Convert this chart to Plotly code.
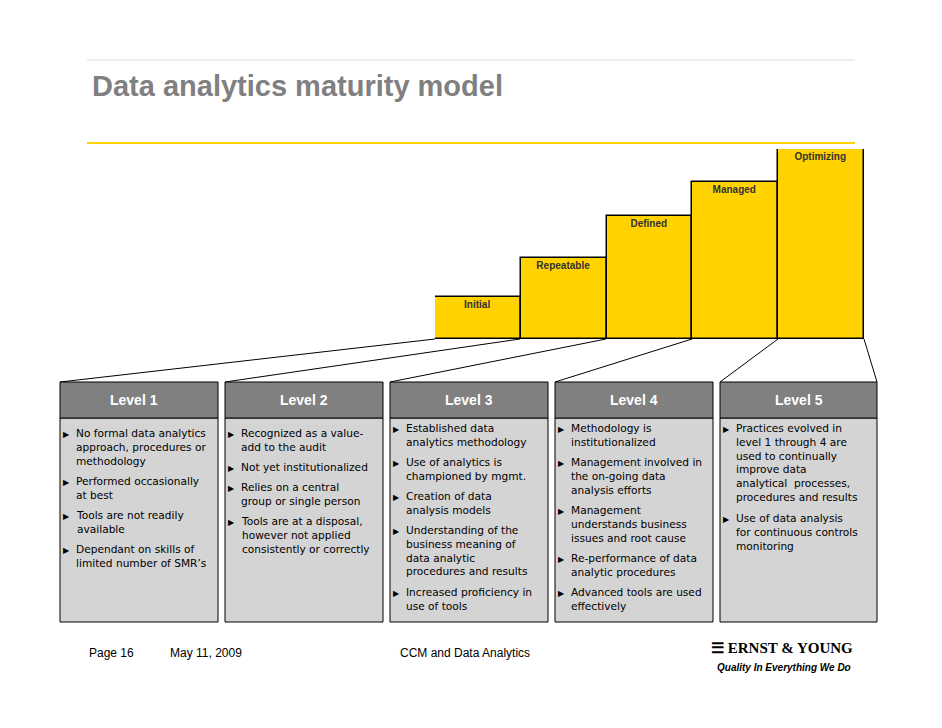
import plotly.graph_objects as go

stages = ["Initial", "Repeatable", "Defined", "Managed", "Optimizing"]
maturity = [1.0, 1.93, 2.93, 3.74, 4.52]

levels = ["Level 1", "Level 2", "Level 3", "Level 4", "Level 5"]
bullets = [
    [["No formal data analytics", "approach, procedures or", "methodology"],
     ["Performed occasionally", "at best"],
     ["Tools are not readily", "available"],
     ["Dependant on skills of", "limited number of SMR’s"]],
    [["Recognized as a value-", "add to the audit"],
     ["Not yet institutionalized"],
     ["Relies on a central", "group or single person"],
     ["Tools are at a disposal,", "however not applied", "consistently or correctly"]],
    [["Established data", "analytics methodology"],
     ["Use of analytics is", "championed by mgmt."],
     ["Creation of data", "analysis models"],
     ["Understanding of the", "business meaning of", "data analytic", "procedures and results"],
     ["Increased proficiency in", "use of tools"]],
    [["Methodology is", "institutionalized"],
     ["Management involved in", "the on-going data", "analysis efforts"],
     ["Management", "understands business", "issues and root cause"],
     ["Re-performance of data", "analytic procedures"],
     ["Advanced tools are used", "effectively"]],
    [["Practices evolved in", "level 1 through 4 are", "used to continually", "improve data", "analytical  processes,", "procedures and results"],
     ["Use of data analysis", "for continuous controls", "monitoring"]],
]

W, H = 942, 728
OFF = 8  # page body margin
fig = go.Figure()
fig.add_trace(go.Bar(x=list(range(5)), y=maturity, text=[f"<b>{s}</b>" for s in stages],
                     textposition="inside", insidetextanchor="end",
                     textfont=dict(size=10, color="#333", family="Liberation Sans"),
                     marker=dict(color="#FFD200", line=dict(color="black", width=1.5)),
                     xaxis="x2", yaxis="y2", width=1, hoverinfo="skip"))
fig.add_trace(go.Scatter(x=[OFF, W + OFF], y=[OFF, H + OFF], mode="markers", marker=dict(opacity=0), hoverinfo="skip"))

shapes, ann = [], []
shapes.append(dict(type="line", x0=87, x1=855, y0=60, y1=60, line=dict(color="#ddd", width=1)))
shapes.append(dict(type="line", x0=87, x1=855, y0=143, y1=143, line=dict(color="#FFD200", width=2)))
ann.append(dict(x=90, y=86, text="<b>Data analytics maturity model</b>", xanchor="left", yanchor="middle",
                showarrow=False, font=dict(size=29, color="#808080", family="Liberation Sans")))

boxes = [(60, 218), (225, 383), (390, 548), (555, 713), (720, 877)]
bar_left = [435, 520, 606, 692, 778]
for i, (x0, x1) in enumerate(boxes):
    shapes.append(dict(type="line", x0=x0, y0=382, x1=bar_left[i], y1=339, line=dict(color="black", width=1)))
shapes.append(dict(type="line", x0=877, y0=382, x1=864, y1=339, line=dict(color="black", width=1)))

starts = [433, 433, 428, 428, 428]
for i, (x0, x1) in enumerate(boxes):
    shapes.append(dict(type="rect", x0=x0, x1=x1, y0=418, y1=622, fillcolor="#D4D4D4", line=dict(color="black", width=1)))
    shapes.append(dict(type="rect", x0=x0, x1=x1, y0=382, y1=418, fillcolor="#808080", line=dict(color="black", width=1)))
    ann.append(dict(x=(x0 + x1) / 2 + (0 if i else -5), y=400, text=f"<b>{levels[i]}</b>", showarrow=False,
                    font=dict(size=14, color="white", family="Liberation Sans")))
    y = starts[i]
    for b in bullets[i]:
        ann.append(dict(x=x0 + 6, y=y, text="▶", showarrow=False, xanchor="center", yanchor="middle",
                        font=dict(size=8, color="black")))
        ann.append(dict(x=x0 + 14, y=y - 8, text="<br>".join(b), showarrow=False, xanchor="left", yanchor="top",
                        align="left", font=dict(size=10.6, color="black", family="DejaVu Sans")))
        y += len(b) * 14 + 6

foot = dict(size=12, color="black", family="Liberation Sans")
for x, t in [(87, "Page 16"), (168, "May 11, 2009"), (398, "CCM and Data Analytics")]:
    ann.append(dict(x=x, y=653, text=t, showarrow=False, xanchor="left", font=foot))
ann.append(dict(x=855, y=648, text="<b>☰ ERNST &amp; YOUNG</b>", showarrow=False, xanchor="right",
                font=dict(size=15, color="black", family="Liberation Serif")))
ann.append(dict(x=853, y=667, text="<b><i>Quality In Everything We Do</i></b>", showarrow=False, xanchor="right",
                font=dict(size=10, color="black", family="Liberation Sans")))

fig.update_layout(
    width=W, height=H, margin=dict(l=0, r=0, t=0, b=0), showlegend=False,
    plot_bgcolor="white", paper_bgcolor="white", shapes=shapes, annotations=ann, bargap=0,
    xaxis=dict(range=[OFF, W + OFF], visible=False, domain=[0, 1]),
    yaxis=dict(range=[H + OFF, OFF], visible=False, domain=[0, 1]),
    xaxis2=dict(range=[-0.5, 4.5], domain=[(435 - OFF) / W, (864 - OFF) / W], visible=False, anchor="y2"),
    yaxis2=dict(range=[0, 4.52], domain=[1 - (339 - OFF) / H, 1 - (149 - OFF) / H], visible=False, anchor="x2"),
)
fig.write_html("out.html")
